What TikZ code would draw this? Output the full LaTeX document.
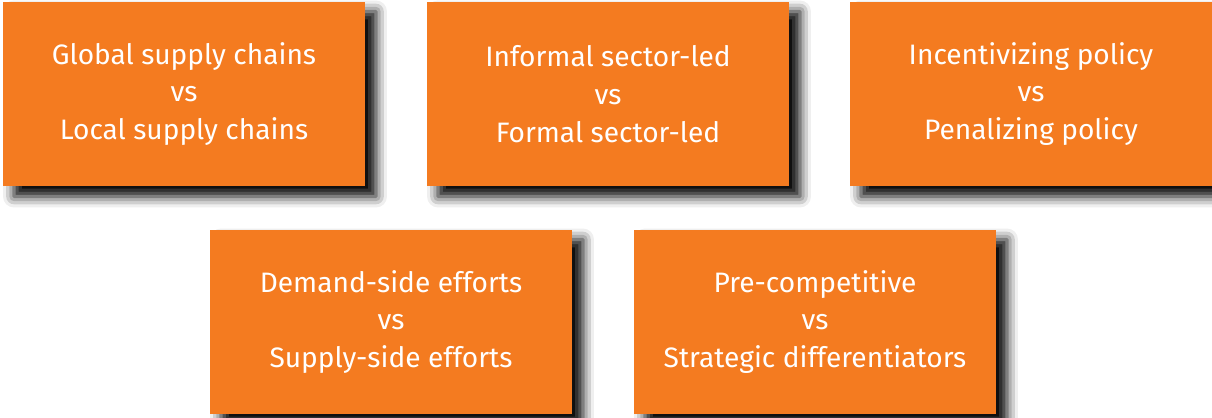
\documentclass[tikz,border=0pt]{standalone}
\usepackage{fontspec}
\setmainfont{Fira Sans}
\usepackage{xcolor}
\usetikzlibrary{calc}
\usetikzlibrary{shadows.blur}
\definecolor{eyorange}{RGB}{244,123,32}
\tikzset{
	choice/.style={
			rectangle, fill=eyorange, text=white, inner sep=0pt,
			minimum width=7.24cm, minimum height=3.7cm,
			align=center, font=\fontsize{16}{21.6}\selectfont,
			blur shadow={shadow xshift=0.22cm, shadow yshift=-0.2cm,
					shadow blur radius=0.22cm, shadow opacity=100}
		}
}

\begin{document}
\begin{tikzpicture}[x=0.02cm, y=-0.02cm]
	\useasboundingbox (0,0) rectangle (1212,417);
	\node[choice] (chains) at (184,94) {Global supply chains\\vs\\Local supply chains};
	\node[choice] (sector) at (608,94) {Informal sector-led\\vs\\Formal sector-led};
	\node[choice] (policy) at (1031,94) {Incentivizing policy\\vs\\Penalizing policy};
	\node[choice] (efforts) at (391,322) {Demand-side efforts\\vs\\Supply-side efforts};
	\node[choice] (compete) at (815,322) {Pre-competitive\\vs\\Strategic differentiators};
\end{tikzpicture}
\end{document}
